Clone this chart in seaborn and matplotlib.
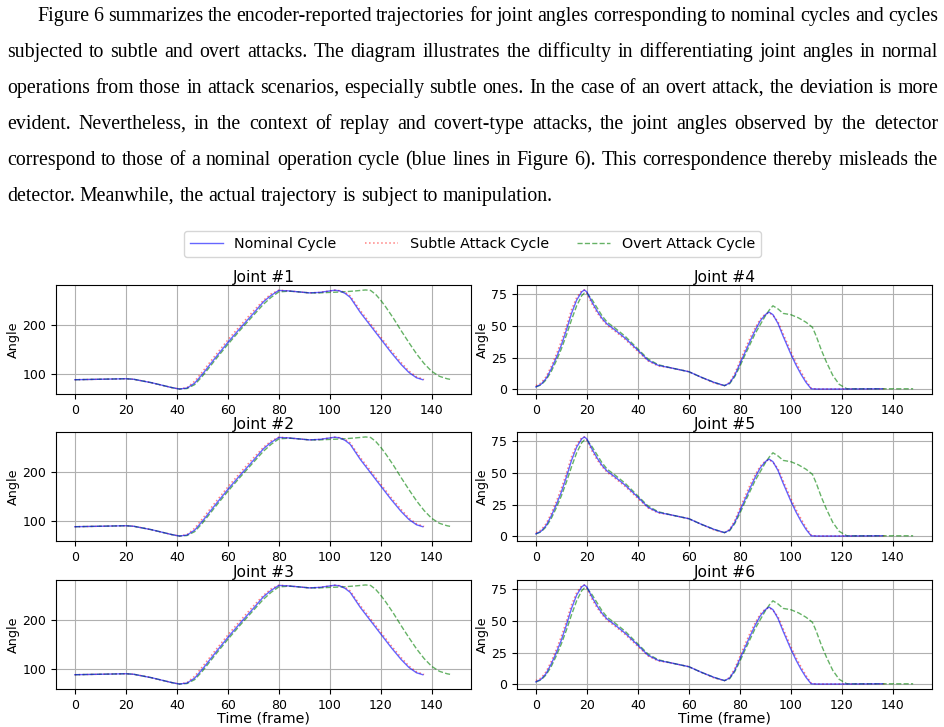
import matplotlib
matplotlib.use("Agg")
import matplotlib.pyplot as plt
import seaborn as sns

# paragraph above the figure
para_lines = [
    "Figure 6 summarizes the encoder-reported trajectories for joint angles corresponding to nominal cycles and cycles",
    "subjected to subtle and overt attacks.  The diagram illustrates the difficulty in differentiating joint angles in normal",
    "operations from those in attack scenarios, especially subtle ones. In the case of an overt attack, the deviation is more",
    "evident.  Nevertheless, in the context of replay and covert-type attacks, the joint angles observed by the detector",
    "correspond to those of a nominal operation cycle (blue lines in Figure 6). This correspondence thereby misleads the",
    "detector. Meanwhile, the actual trajectory is subject to manipulation.",
]

# joints 1-3 (left column)
left_nom_t = [0, 5, 10, 15, 20, 23, 26, 30, 34, 38, 41, 44, 47, 50, 55, 60, 65, 70, 74, 77,
              80, 84, 88, 92, 96, 100, 102, 104, 106, 108, 112, 116, 120, 124, 128, 131, 134, 136.5]
left_nom_y = [89, 89.5, 90, 90.5, 91, 90, 87, 83, 78, 73, 70, 72, 82, 100, 133, 165, 195, 224, 248, 261,
              271, 270, 268, 266, 267, 270, 271.5, 270, 265, 257, 226, 199, 172, 145, 120, 104, 93, 89]
left_sub_t = [0, 5, 10, 15, 20, 23, 26, 30, 34, 38, 41, 44, 47, 50, 55, 60, 65, 70, 74, 77,
              80, 84, 88, 92, 96, 100, 102, 104, 106, 108, 112, 116, 120, 124, 128, 131, 134, 137]
left_sub_y = [89, 89.5, 90, 90.5, 91, 90, 87, 83, 78, 73, 70, 73, 86, 105, 138, 170, 200, 229, 251, 264,
              271.5, 270, 268, 266, 267, 270, 271.5, 270.5, 267, 260, 230, 203, 176, 149, 124, 107, 95, 89.5]
left_ovt_t = [0, 5, 10, 15, 20, 23, 26, 30, 34, 38, 41, 44, 47, 50, 55, 60, 65, 70, 74, 77,
              80, 84, 88, 92, 96, 100, 105, 110, 114, 116, 118, 120, 122, 125, 128, 131, 134, 137,
              140, 143, 146, 148]
left_ovt_y = [89, 89.5, 90, 90.5, 91, 90, 87, 83, 78, 73, 70, 71, 79, 96, 129, 161, 191, 220, 243, 257,
              268, 269.5, 268, 266, 266, 267, 268, 270, 272, 271, 263, 251, 237, 214, 189, 165, 142, 122,
              106, 96, 91, 89]

# joints 4-6 (right column)
right_nom_t = [0, 2, 4, 6, 8, 10, 12, 14, 16, 18, 19, 20, 22, 24, 26, 28, 31, 35, 40, 44, 48, 53, 60,
               65, 70, 74, 76, 78, 80, 82, 84, 86, 88, 90, 91.5, 93, 95, 97, 100, 102, 104, 106, 108,
               110, 120, 130, 136]
right_nom_y = [2, 4, 8.5, 16, 25, 35, 47, 60, 70.5, 77, 78.5, 77, 69, 62, 56, 51.5, 47, 40.5, 31, 23, 19,
               17, 14, 9.5, 5.5, 3, 5, 11, 20, 29, 38, 46.5, 54, 59, 61, 59, 52, 42, 28, 19.5, 12, 5.5,
               0.5, 0.3, 0.3, 0.4, 0.5]
right_sub_t = [0, 2, 4, 6, 8, 10, 12, 14, 16, 18, 19, 20, 22, 24, 26, 28, 31, 35, 40, 44, 48, 53, 60,
               65, 70, 74, 76, 78, 80, 82, 84, 86, 88, 90, 91.5, 93, 95, 97, 100, 102, 104, 106, 108,
               110, 120, 130, 137]
right_sub_y = [3, 5, 10, 18, 27.5, 38, 50, 63, 72.5, 78, 78.5, 76, 67.5, 60.5, 55, 50.5, 46, 39.5, 30,
               22.5, 18.5, 17, 14, 9.5, 5, 3, 5.5, 12.5, 22, 31.5, 40.5, 48.5, 55.5, 59.5, 60.5, 58.5,
               53.5, 44, 30, 21.5, 14, 7, 1, 0.3, 0.3, 0.4, 0.5]
right_ovt_t = [0, 2, 4, 6, 8, 10, 12, 14, 16, 18, 19, 20, 22, 24, 26, 28, 31, 35, 40, 44, 48, 53, 60,
               65, 70, 74, 76, 78, 80, 82, 84, 86, 88, 90, 91.5, 93, 95, 97, 100, 103, 106, 108.5, 110,
               112, 114, 116.5, 119, 122, 130, 140, 148]
right_ovt_y = [2, 3.5, 7.5, 14, 22.5, 32, 43, 55, 66, 74, 76, 76, 71, 64.5, 58, 53, 48.5, 42, 32, 24,
               19.5, 17, 14, 9.5, 5.5, 3, 4.5, 10, 18, 27, 35.5, 44, 51, 58, 62.5, 66, 63.5, 60, 59,
               56.5, 53, 49, 42, 31, 21.5, 11, 4, 0.5, 0.5, 0.5, 0.5]

joint_names = ["Joint #1", "Joint #2", "Joint #3", "Joint #4", "Joint #5", "Joint #6"]
series_names = ["Nominal Cycle", "Subtle Attack Cycle", "Overt Attack Cycle"]

left_data = [(left_nom_t, left_nom_y), (left_sub_t, left_sub_y), (left_ovt_t, left_ovt_y)]
right_data = [(right_nom_t, right_nom_y), (right_sub_t, right_sub_y), (right_ovt_t, right_ovt_y)]
styles = [dict(color="blue", linestyle="-", alpha=0.6, linewidth=1.0, zorder=3),
          dict(color="red", linestyle=":", alpha=0.5, linewidth=1.1, zorder=2),
          dict(color="green", linestyle="--", alpha=0.6, linewidth=1.0, zorder=2)]

W, H = 945, 727
fig = plt.figure(figsize=(W / 100, H / 100), dpi=100)

# axes boxes in pixels: (left, right) and (top, bottom)
col_x = [(56, 471), (517, 932)]
row_y = [(285, 394), (432, 541), (580, 689)]

handles = None
for j, name in enumerate(joint_names):
    col = j // 3
    row = j % 3
    x0, x1 = col_x[col]
    y0, y1 = row_y[row]
    ax = fig.add_axes([x0 / W, 1 - y1 / H, (x1 - x0) / W, (y1 - y0) / H])
    data = left_data if col == 0 else right_data
    for (t, y), lab, st in zip(data, series_names, styles):
        sns.lineplot(x=t, y=y, ax=ax, label=lab, estimator=None, **st)
    if handles is None:
        handles, labels = ax.get_legend_handles_labels()
    ax.get_legend().remove()
    ax.grid(True, color="#b0b0b0", linewidth=0.8)
    ax.set_xticks([0, 20, 40, 60, 80, 100, 120, 140])
    ax.tick_params(labelsize=9)
    ax.set_title(name, fontsize=11.2, pad=2)
    ax.set_ylabel("Angle", fontsize=9.2, labelpad=2)
    if row == 2:
        ax.set_xlabel("Time (frame)", fontsize=10.3, labelpad=0)
    else:
        ax.set_xlabel("")

fig.legend(handles, labels, loc="center", bbox_to_anchor=(0.5, 1 - 244 / H), ncol=3,
           fontsize=10.3, frameon=True, columnspacing=2.0, handlelength=2.3)

# justified paragraph
renderer = fig.canvas.get_renderer()
fs = 14.3
for i, line in enumerate(para_lines):
    words = line.split()
    yb = 1 - (21 + 36 * i) / H
    xs = 37 if i == 0 else 7
    texts = [fig.text(0, yb, w, fontsize=fs, family="Liberation Serif", va="baseline", color="black")
             for w in words]
    widths = [t.get_window_extent(renderer).width for t in texts]
    if i < len(para_lines) - 1:
        gap = (938 - xs - sum(widths)) / (len(words) - 1)
    else:
        gap = 0.25 * fs * 100 / 72
    x = xs
    for t, w in zip(texts, widths):
        t.set_x(x / W)
        x += w + gap

fig.savefig("out.png", dpi=100)
